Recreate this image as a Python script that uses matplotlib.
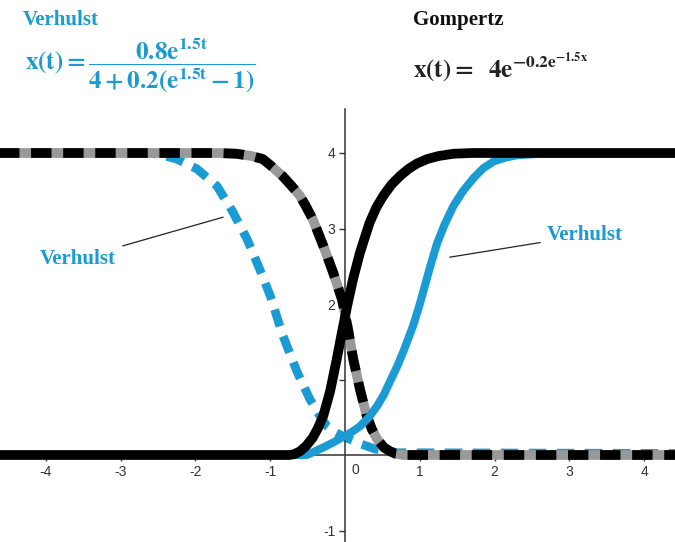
import matplotlib
matplotlib.use("Agg")
import matplotlib.pyplot as plt

plt.rcParams['axes.unicode_minus'] = False
plt.rcParams['mathtext.fontset'] = 'stix'
plt.rcParams['mathtext.default'] = 'bf'

BLUE = '#1b9bd3'

# Gompertz curve (black, solid)
gomp_x = [-4.7, -0.75, -0.68, -0.6, -0.52, -0.43, -0.36, -0.29, -0.2, -0.11, -0.04,
          0.03, 0.11, 0.2, 0.33, 0.42, 0.51, 0.62, 0.74, 0.85, 0.96, 1.1, 1.25,
          1.45, 1.7, 4.5]
gomp_y = [0.0, 0.0, 0.01, 0.05, 0.12, 0.23, 0.36, 0.52, 0.84, 1.27, 1.63,
          1.98, 2.34, 2.68, 3.08, 3.28, 3.43, 3.58, 3.7, 3.79, 3.86, 3.92, 3.96,
          3.99, 4.0, 4.0]

# mirrored Gompertz (black dashes over grey)
gomp_m_x = [-4.7, -1.7, -1.45, -1.25, -1.1, -1.0, -0.83, -0.72, -0.6, -0.52, -0.43,
            -0.29, -0.16, -0.04, 0.04, 0.11, 0.2, 0.29, 0.36, 0.43, 0.52, 0.6,
            0.68, 0.78, 4.5]
gomp_m_y = [4.0, 4.0, 3.99, 3.96, 3.92, 3.84, 3.69, 3.57, 3.43, 3.29, 3.12,
            2.77, 2.42, 2.06, 1.67, 1.27, 0.87, 0.52, 0.34, 0.21, 0.1, 0.05,
            0.015, 0.0, 0.0]

# Verhulst curve (blue, solid)
verh_x = [-4.7, -0.51, -0.4, -0.29, -0.15, -0.03, 0.1, 0.2, 0.32, 0.43, 0.52, 0.6,
          0.7, 0.78, 0.91, 1.0, 1.07, 1.14, 1.23, 1.33, 1.45, 1.58, 1.72, 1.85,
          1.99, 2.15, 2.3, 2.6, 4.5]
verh_y = [0.0, 0.0, 0.05, 0.1, 0.17, 0.24, 0.31, 0.38, 0.5, 0.65, 0.8, 0.97,
          1.18, 1.37, 1.71, 2.0, 2.25, 2.5, 2.8, 3.05, 3.3, 3.5, 3.67, 3.8,
          3.89, 3.94, 3.97, 3.99, 3.99]

# mirrored Verhulst (blue, dashed)
verh_m_x = [-4.7, -2.6, -2.4, -2.25, -1.98, -1.71, -1.5, -1.31, -1.14, -1.0, -0.83,
            -0.64, -0.47, -0.35, -0.24, -0.13, -0.03, 0.2, 0.4, 0.7, 4.5]
verh_m_y = [4.0, 4.0, 3.96, 3.92, 3.79, 3.56, 3.22, 2.86, 2.46, 2.11, 1.58,
            1.1, 0.74, 0.54, 0.38, 0.3, 0.25, 0.15, 0.08, 0.03, 0.02]

xticks = [-4, -3, -2, -1, 1, 2, 3, 4]
yticks = [-1, 1, 2, 3, 4]
ylabels = ['-1', '', '2', '3', '4']  # the "1" is hidden under the curves

fig = plt.figure(figsize=(6.75, 5.42), dpi=100)
ax = fig.add_axes([0, 0, 1, 1])
ax.set_xlim(-345 / 74.8, 330 / 74.8)
ax.set_ylim((455 - 542) / 75.5, 455 / 75.5)
ax.set_axisbelow(True)

for side in ['top', 'right']:
    ax.spines[side].set_visible(False)
ax.spines['left'].set_position(('data', 0))
ax.spines['bottom'].set_position(('data', 0))
ax.spines['left'].set_bounds(-1.2, 4.58)
for side in ['left', 'bottom']:
    ax.spines[side].set_color('#333333')
    ax.spines[side].set_linewidth(1.1)

ax.set_xticks(xticks)
ax.set_xticklabels([str(t) for t in xticks])
ax.set_yticks(yticks)
ax.set_yticklabels(ylabels)
ax.tick_params(axis='both', length=4, width=1, color='#333333', labelcolor='#333333',
               labelsize=10, pad=3)
for lab in ax.get_xticklabels() + ax.get_yticklabels():
    lab.set_family('Liberation Sans')
ax.text(0.14, -0.2, '0', ha='center', va='center', fontsize=10, color='#333333',
        family='Liberation Sans', zorder=0.5)

# curves
ax.plot(verh_m_x, verh_m_y, color=BLUE, lw=6.3, linestyle=(0, (2.0, 1.2)),
        solid_capstyle='butt', zorder=2)
ax.plot(gomp_m_x, gomp_m_y, color='#999999', lw=7, solid_joinstyle='round', zorder=3)
ax.plot(gomp_m_x, gomp_m_y, color='black', lw=7, linestyle=(0, (2.1, 1.2)),
        dash_capstyle='butt', zorder=4)
ax.plot(verh_x, verh_y, color=BLUE, lw=5.8, solid_joinstyle='round', zorder=5)
ax.plot(gomp_x, gomp_y, color='black', lw=7, solid_joinstyle='round', zorder=6)

# labels with leader lines
ax.annotate('Verhulst', xy=(-1.63, 3.15), xytext=(-3.57, 2.6), ha='center', va='center',
            fontsize=15, fontweight='bold', family='Liberation Serif', color=BLUE,
            arrowprops=dict(arrowstyle='-', color='#222222', lw=0.9, shrinkA=3, shrinkB=0),
            zorder=7)
ax.annotate('Verhulst', xy=(1.40, 2.62), xytext=(3.21, 2.91), ha='center', va='center',
            fontsize=15, fontweight='bold', family='Liberation Serif', color=BLUE,
            arrowprops=dict(arrowstyle='-', color='#222222', lw=0.9, shrinkA=3, shrinkB=0),
            zorder=7)

# headers and formulas
fig.text(23 / 675, 1 - 20 / 542, 'Verhulst', ha='left', va='center', fontsize=15,
         fontweight='bold', family='Liberation Serif', color=BLUE)
fig.text(25 / 675, 1 - 66 / 542, r'$x(t) = \dfrac{0.8e^{1.5t}}{4 + 0.2(e^{1.5t} - 1)}$',
         ha='left', va='center', fontsize=18, color=BLUE)
fig.text(413 / 675, 1 - 20 / 542, 'Gompertz', ha='left', va='center', fontsize=15,
         fontweight='bold', family='Liberation Serif', color='#111111')
fig.text(413 / 675, 1 - 67 / 542, r'$x(t) =\ \ 4e^{-0.2e^{-1.5x}}$',
         ha='left', va='center', fontsize=18, color='#222222')

fig.savefig('out.png', dpi=100)
